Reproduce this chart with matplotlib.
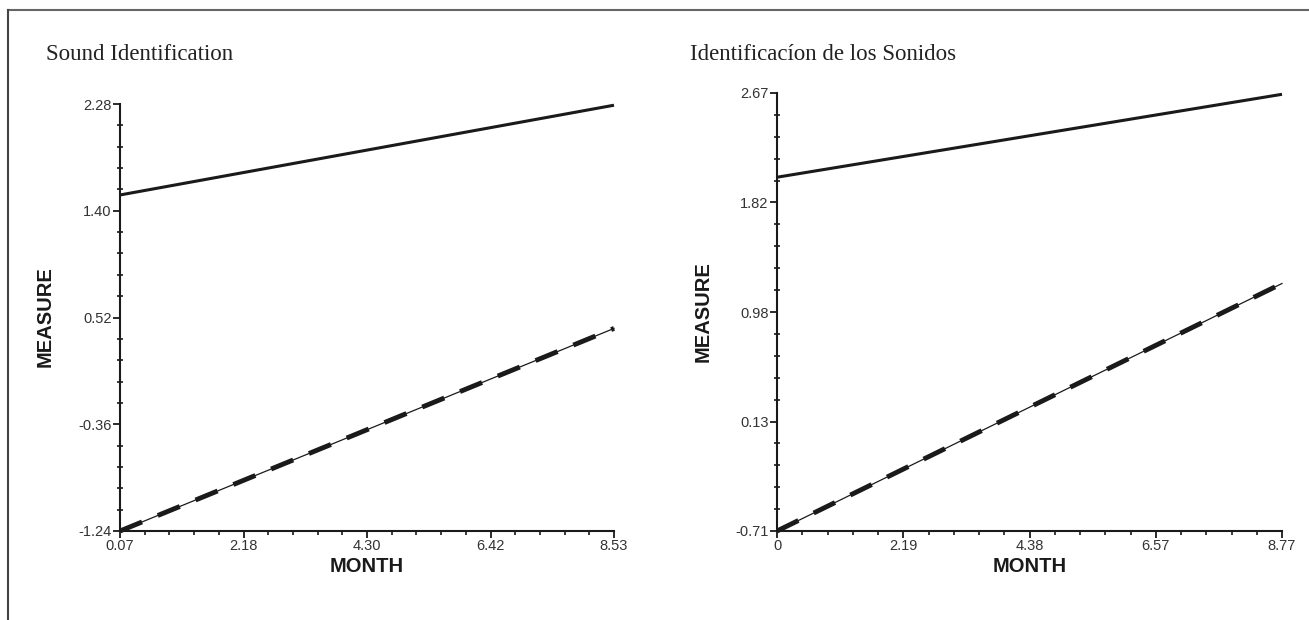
import numpy as np
import matplotlib
matplotlib.use("Agg")
import matplotlib.pyplot as plt
from matplotlib.ticker import AutoMinorLocator
from matplotlib.lines import Line2D

# Werte
months_left = [0.07, 8.53]
top_left = [1.53, 2.27]
bottom_left = [-1.24, 0.43]
xlabels_left = ["0.07", "2.18", "4.30", "6.42", "8.53"]
ylabels_left = ["-1.24", "-0.36", "0.52", "1.40", "2.28"]

months_right = [0.0, 8.77]
top_right = [2.02, 2.66]
bottom_right = [-0.71, 1.20]
xlabels_right = ["0", "2.19", "4.38", "6.57", "8.77"]
ylabels_right = ["-0.71", "0.13", "0.98", "1.82", "2.67"]

titles = ["Sound Identification", "Identificacíon de los Sonidos"]

W, H = 1309, 620
fig = plt.figure(figsize=(W / 100, H / 100), dpi=100)
plt.rcParams["font.family"] = ["Liberation Sans", "DejaVu Sans"]


def px(x, y):
    return x / W, 1 - y / H


def panel(rect, months, top, bottom, xlabels, ylabels, title, title_xy, ylab_xy, xlab_xy):
    ax = fig.add_axes(rect)
    xlo, xhi = float(xlabels[0]), float(xlabels[-1])
    ylo, yhi = float(ylabels[0]), float(ylabels[-1])
    ax.set_xlim(xlo, xhi)
    ax.set_ylim(ylo, yhi)
    ax.set_xticks(np.linspace(xlo, xhi, 5))
    ax.set_xticklabels(xlabels)
    ax.set_yticks(np.linspace(ylo, yhi, 5))
    ax.set_yticklabels(ylabels)
    ax.xaxis.set_minor_locator(AutoMinorLocator(5))
    ax.yaxis.set_minor_locator(AutoMinorLocator(5))
    for s in ["top", "right"]:
        ax.spines[s].set_visible(False)
    for s in ["left", "bottom"]:
        ax.spines[s].set_linewidth(1.5)
        ax.spines[s].set_color("#1a1a1a")
    ax.tick_params(which="major", length=5, width=1.3, labelsize=10.5, labelcolor="#333333", color="#1a1a1a", pad=1)
    ax.tick_params(which="minor", length=3, width=1.2, color="#1a1a1a")
    ax.tick_params(axis="y", which="minor", direction="inout", length=4)

    ax.plot(months, top, color="#1a1a1a", lw=2.2, solid_capstyle="butt", clip_on=False)
    ax.plot(months, bottom, color="#1a1a1a", lw=0.9, clip_on=False)
    ax.plot(months, bottom, color="#1a1a1a", lw=3.5, dashes=(4.9, 3.5), clip_on=False)

    fig.text(*px(*title_xy), title, family="Liberation Serif", fontsize=16.5, color="#222222", va="center", ha="left")
    fig.text(*px(*ylab_xy), "MEASURE", fontsize=14.5, fontweight="bold", rotation=90, ha="center", va="center", color="#1a1a1a")
    fig.text(*px(*xlab_xy), "MONTH", fontsize=14.5, fontweight="bold", ha="center", va="center", color="#1a1a1a")
    return ax


l0, b0 = px(120, 531)
l1, b1 = px(614, 104)
panel([l0, b0, l1 - l0, b1 - b0], months_left, top_left, bottom_left, xlabels_left, ylabels_left,
      titles[0], (46, 55), (45, 317), (367, 567))

r0, c0 = px(777, 531)
r1, c1 = px(1282, 93)
panel([r0, c0, r1 - r0, c1 - c0], months_right, top_right, bottom_right, xlabels_right, ylabels_right,
      titles[1], (690, 55), (703, 312), (1030, 567))

# Rahmen oben und links
fig.add_artist(Line2D([8 / W, 1], [1 - 10 / H, 1 - 10 / H], color="#666666", lw=1.5, transform=fig.transFigure))
fig.add_artist(Line2D([8 / W, 8 / W], [0, 1 - 10 / H], color="#444444", lw=1.5, transform=fig.transFigure))

fig.savefig("out.png", dpi=100)
